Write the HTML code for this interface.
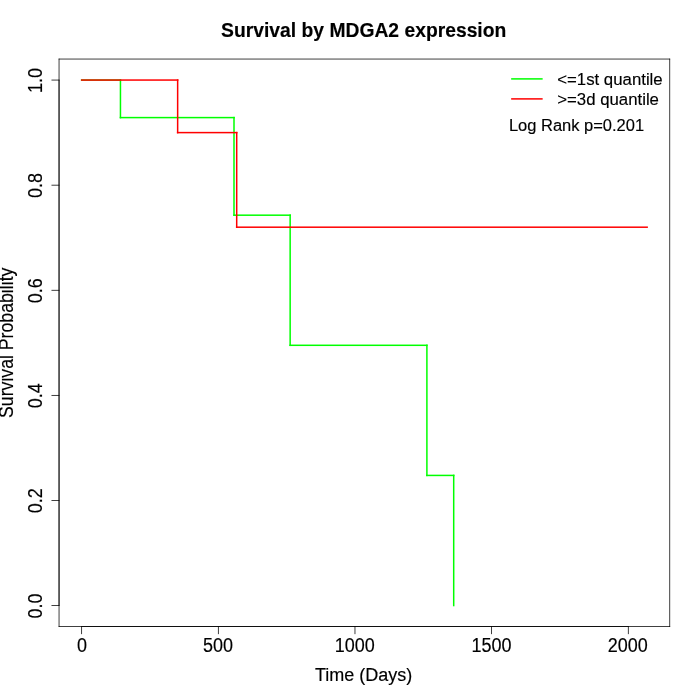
<!DOCTYPE html>
<html><head><meta charset="utf-8"><title>Survival by MDGA2 expression</title>
<style>
html,body{margin:0;padding:0;background:#fff;}
body{width:700px;height:700px;overflow:hidden;}
svg{display:block;}
text{font-family:"Liberation Sans",Arial,Helvetica,sans-serif;fill:#000;stroke:#000;stroke-width:0.15px;}
.ax{font-size:18px;}
.lg{font-size:16.8px;}
</style></head><body>
<svg width="700" height="700" viewBox="0 0 700 700">
<rect x="0" y="0" width="700" height="700" fill="#ffffff"/>
<rect x="80.909" y="79.309" width="40.291" height="1.500" fill="#00ff00"/>
<rect x="119.700" y="79.309" width="1.500" height="39.034" fill="#00ff00"/>
<rect x="119.700" y="116.844" width="115.050" height="1.500" fill="#00ff00"/>
<rect x="233.250" y="116.844" width="1.500" height="99.089" fill="#00ff00"/>
<rect x="233.250" y="214.433" width="57.650" height="1.500" fill="#00ff00"/>
<rect x="289.400" y="214.433" width="1.500" height="131.619" fill="#00ff00"/>
<rect x="289.400" y="344.552" width="138.250" height="1.500" fill="#00ff00"/>
<rect x="426.150" y="344.552" width="1.500" height="131.619" fill="#00ff00"/>
<rect x="426.150" y="474.672" width="28.300" height="1.500" fill="#00ff00"/>
<rect x="452.950" y="474.672" width="1.500" height="131.619" fill="#00ff00"/>
<rect x="80.909" y="79.309" width="97.491" height="1.500" fill="#ff0000"/>
<rect x="176.900" y="79.309" width="1.500" height="54.048" fill="#ff0000"/>
<rect x="176.900" y="131.857" width="60.550" height="1.500" fill="#ff0000"/>
<rect x="235.950" y="131.857" width="1.500" height="96.087" fill="#ff0000"/>
<rect x="235.950" y="226.444" width="411.941" height="1.500" fill="#ff0000"/>
<rect x="81.284" y="626.185" width="547.373" height="0.750" fill="#000"/>
<rect x="81.284" y="626.185" width="0.750" height="7.950" fill="#000"/>
<text class="ax" transform="translate(81.96,652.20) scale(1,1.08)" text-anchor="middle">0</text>
<rect x="217.940" y="626.185" width="0.750" height="7.950" fill="#000"/>
<text class="ax" transform="translate(217.93,652.20) scale(1,1.08)" text-anchor="middle">500</text>
<rect x="354.596" y="626.185" width="0.750" height="7.950" fill="#000"/>
<text class="ax" transform="translate(354.65,652.20) scale(1,1.08)" text-anchor="middle">1000</text>
<rect x="491.252" y="626.185" width="0.750" height="7.950" fill="#000"/>
<text class="ax" transform="translate(491.62,652.20) scale(1,1.08)" text-anchor="middle">1500</text>
<rect x="627.907" y="626.185" width="0.750" height="7.950" fill="#000"/>
<text class="ax" transform="translate(627.74,652.20) scale(1,1.08)" text-anchor="middle">2000</text>
<rect x="58.665" y="79.684" width="0.750" height="526.231" fill="#000"/>
<rect x="51.465" y="605.166" width="7.950" height="0.750" fill="#000"/>
<text class="ax" transform="translate(41.90,605.94) rotate(-90) scale(1,1.08)" text-anchor="middle">0.0</text>
<rect x="51.465" y="500.069" width="7.950" height="0.750" fill="#000"/>
<text class="ax" transform="translate(41.90,500.84) rotate(-90) scale(1,1.08)" text-anchor="middle">0.2</text>
<rect x="51.465" y="394.973" width="7.950" height="0.750" fill="#000"/>
<text class="ax" transform="translate(41.90,395.75) rotate(-90) scale(1,1.08)" text-anchor="middle">0.4</text>
<rect x="51.465" y="289.877" width="7.950" height="0.750" fill="#000"/>
<text class="ax" transform="translate(41.90,290.65) rotate(-90) scale(1,1.08)" text-anchor="middle">0.6</text>
<rect x="51.465" y="184.781" width="7.950" height="0.750" fill="#000"/>
<text class="ax" transform="translate(41.90,185.56) rotate(-90) scale(1,1.08)" text-anchor="middle">0.8</text>
<rect x="51.465" y="79.684" width="7.950" height="0.750" fill="#000"/>
<text class="ax" transform="translate(41.90,80.46) rotate(-90) scale(1,1.08)" text-anchor="middle">1.0</text>
<rect x="58.665" y="626.185" width="611.470" height="0.750" fill="#000"/>
<rect x="669.385" y="58.665" width="0.750" height="568.270" fill="#000"/>
<rect x="58.665" y="58.665" width="611.470" height="0.750" fill="#000"/>
<rect x="58.665" y="58.665" width="0.750" height="568.270" fill="#000"/>
<text transform="translate(363.70,36.6) scale(1,1.08)" text-anchor="middle" style="font-size:19.3px;font-weight:bold;">Survival by MDGA2 expression</text>
<text class="ax" transform="translate(363.70,681.0) scale(1,1.0)" text-anchor="middle">Time (Days)</text>
<text class="ax" transform="translate(12.9,342.80) rotate(-90) scale(0.983,1.08)" text-anchor="middle">Survival Probability</text>
<rect x="511.150" y="78.150" width="31.500" height="1.500" fill="#00ff00"/>
<rect x="511.150" y="98.150" width="31.500" height="1.500" fill="#ff0000"/>
<text class="lg" transform="translate(557.2,84.6) scale(1,0.95)">&lt;=1st quantile</text>
<text class="lg" transform="translate(557.2,104.6) scale(1,0.95)">&gt;=3d quantile</text>
<text class="lg" transform="translate(508.9,130.7) scale(1,0.96)" style="font-size:16.5px">Log Rank p=0.201</text>
</svg>
</body></html>
